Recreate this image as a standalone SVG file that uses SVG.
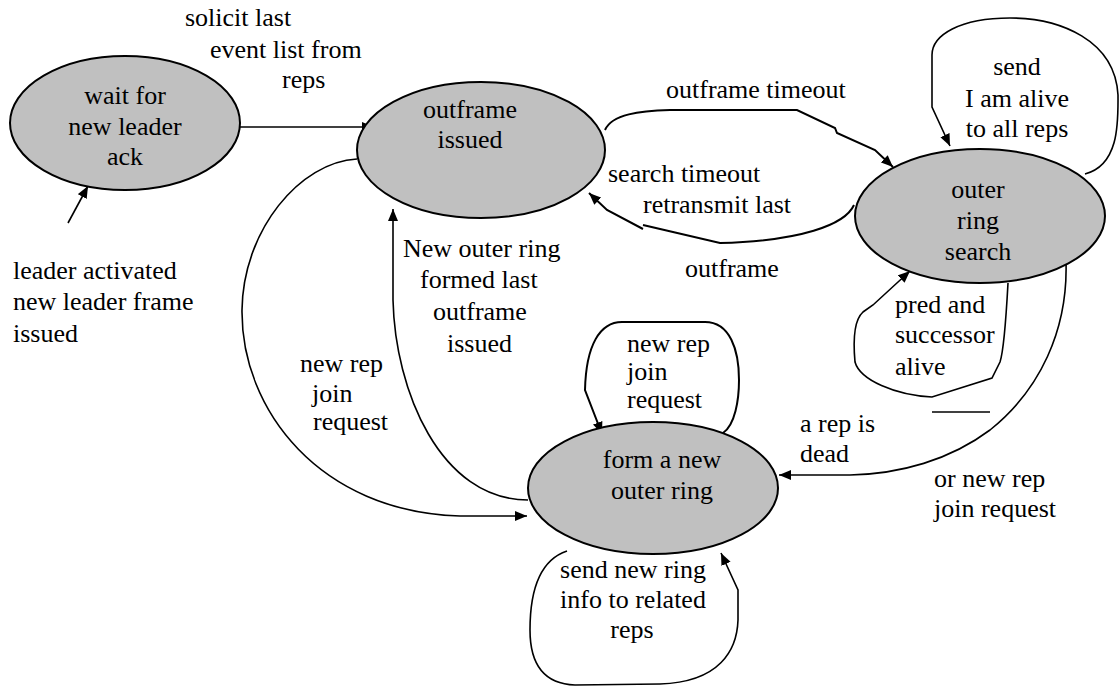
<svg xmlns="http://www.w3.org/2000/svg" width="1120" height="686" viewBox="0 0 1120 686">
<style>
text{font-family:'Liberation Serif','DejaVu Serif',serif;font-size:26px;fill:#000}
.c{text-anchor:middle}
.node ellipse{fill:#c0c0c0;stroke:#000;stroke-width:2}
.edge{fill:none;stroke:#000;stroke-width:1.6}
</style>
<defs>
<marker id="ah" markerUnits="userSpaceOnUse" markerWidth="13" markerHeight="11" refX="12" refY="5" orient="auto">
<path d="M0,0 L12,5 L0,10 z" fill="#000"/>
</marker>
</defs>
<rect width="1120" height="686" fill="#fff"/>
<g id="connectors">
<path class="edge" d="M68,223 L88,186" marker-end="url(#ah)"/>
<path class="edge" d="M240,127 L374,127" marker-end="url(#ah)"/>
<path class="edge" style="stroke-width:2" d="M605,130 C612,114 640,111 670,110 L797,110 L835,128 L837,133 L875,150 L893,167" marker-end="url(#ah)"/>
<path class="edge" style="stroke-width:2" d="M854,205 C845,225 800,241 720,243 L643,225 M643,229 L607,210 L589,193" marker-end="url(#ah)"/>
<path class="edge" d="M1085,174 C1120,165 1118,120 1118,95 C1115,40 1060,18 1010,18 C960,18 932,35 932,55 L932,107 L950,146" marker-end="url(#ah)"/>
<path class="edge" d="M1008,283 C1006,320 1004,350 1000,362 L992,378 L932,397 C895,395 860,380 855,362 C853,340 854,320 863,312 L873,305 L910,271" marker-end="url(#ah)"/>
<path class="edge" d="M932,412 L990,412"/>
<path class="edge" d="M1066,262 C1068,330 1040,390 990,430 C950,460 900,474 850,475 L779,475" marker-end="url(#ah)"/>
<path class="edge" d="M357,159 C300,162 243,230 242,310 C241,410 320,512 460,516 L527,516" marker-end="url(#ah)"/>
<path class="edge" d="M528,500 C440,500 395,390 393,300 L393,209" marker-end="url(#ah)"/>
<path class="edge" style="stroke-width:2" d="M723,433 C735,425 739,400 739,380 C739,350 730,322 705,322 L622,322 C600,322 586,345 585,390 L602,434" marker-end="url(#ah)"/>
<path class="edge" d="M567,551 C540,560 530,590 530,630 C530,665 545,684 575,685 L660,684 C720,682 737,650 738,620 L738,590 L721,553" marker-end="url(#ah)"/>
</g>
<g id="n1" class="node">
<ellipse cx="125" cy="123" rx="115" ry="67"/>
<text class="c" x="125" y="104">wait for</text>
<text class="c" x="125" y="135">new leader</text>
<text class="c" x="125" y="165">ack</text>
</g>
<g id="n2" class="node">
<ellipse cx="481" cy="150" rx="124" ry="68"/>
<text class="c" x="470" y="118">outframe</text>
<text class="c" x="470" y="148">issued</text>
</g>
<g id="n3" class="node">
<ellipse cx="980" cy="216" rx="125" ry="67"/>
<text class="c" x="978" y="198">outer</text>
<text class="c" x="978" y="229">ring</text>
<text class="c" x="978" y="260">search</text>
</g>
<g id="n4" class="node">
<ellipse cx="653" cy="488" rx="125" ry="66"/>
<text class="c" x="662" y="468">form a new</text>
<text class="c" x="662" y="499">outer ring</text>
</g>
<g id="labels">
<text x="185" y="26">solicit last</text>
<text x="210" y="58">event list from</text>
<text x="282" y="88">reps</text>
<text x="13" y="279">leader activated</text>
<text x="13" y="310">new leader frame</text>
<text x="13" y="342">issued</text>
<text x="666" y="98">outframe timeout</text>
<text x="608" y="182">search timeout</text>
<text x="643" y="213">retransmit last</text>
<text x="685" y="277">outframe</text>
<text class="c" x="1017" y="75">send</text>
<text class="c" x="1017" y="107">I am alive</text>
<text class="c" x="1017" y="137">to all reps</text>
<text x="895" y="313">pred and</text>
<text x="895" y="343">successor</text>
<text x="895" y="375">alive</text>
<text x="800" y="432">a rep is</text>
<text x="800" y="462">dead</text>
<text x="934" y="487">or new rep</text>
<text x="934" y="517">join request</text>
<text x="403" y="257">New outer ring</text>
<text x="420" y="288">formed last</text>
<text x="433" y="320">outframe</text>
<text x="447" y="352">issued</text>
<text x="300" y="372">new rep</text>
<text x="312" y="402">join</text>
<text x="313" y="430">request</text>
<text x="627" y="352">new rep</text>
<text x="627" y="380">join</text>
<text x="627" y="408">request</text>
<text class="c" x="633" y="578">send new ring</text>
<text class="c" x="633" y="608">info to related</text>
<text class="c" x="632" y="638">reps</text>
</g>
</svg>
